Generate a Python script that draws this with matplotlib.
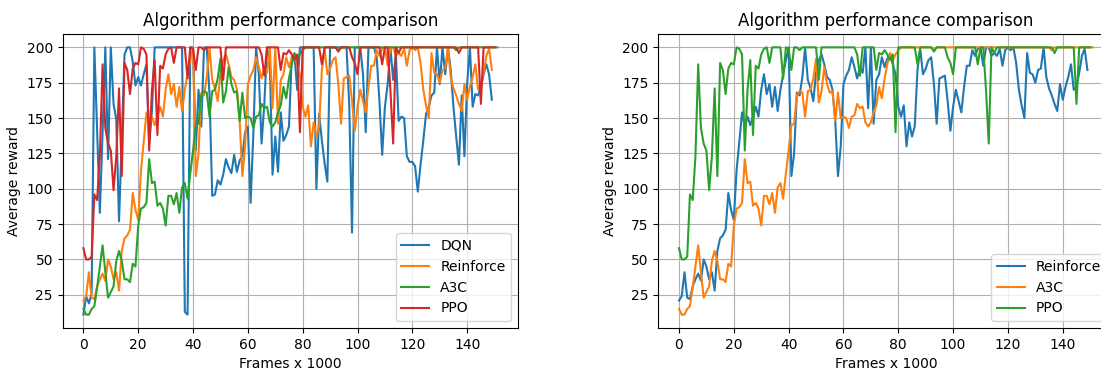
import numpy as np
import matplotlib
matplotlib.use('Agg')
import matplotlib.pyplot as plt

# Average reward per 1000 frames
dqn = [11, 24, 19, 26, 200, 141, 83, 140, 200, 121,
       200, 160, 149, 77, 136, 195, 200, 200, 190, 173,
       179, 173, 181, 188, 132, 155, 200, 200, 200, 200,
       200, 200, 200, 200, 200, 200, 200, 13, 11,
       200, 200, 127, 170, 144, 200, 200, 167, 95, 96,
       106, 103, 110, 121, 115, 111, 124, 112, 120, 123,
       140, 144, 90, 139, 200, 181, 132, 160, 200, 190,
       110, 137, 112, 154, 134, 138, 144, 193, 195, 170,
       200, 200, 200, 200, 200, 200, 100, 153, 134, 118,
       105, 200, 200, 200, 200, 200, 200, 200, 158, 69,
       200, 200, 200, 181, 140, 200, 200, 200, 193, 162,
       124, 158, 174, 200, 177, 195, 148, 151, 150,
       123, 119, 119, 116, 98, 117, 134, 153, 158, 166,
       168, 200, 174, 200, 181, 200, 184, 158, 137, 117,
       166, 123, 174, 200, 158, 167, 166, 172, 181, 188,
       181, 163]

reinforce = [21, 24, 41, 23, 22, 31, 36, 40, 35, 50,
             45, 36, 41, 28, 56, 65, 67, 71, 97, 85,
             78, 113, 133, 154, 144, 151, 145, 151, 158, 151,
             170, 181, 167, 174, 158, 172, 155, 170, 181,
             191, 200, 109, 125, 168, 166, 179, 200, 177, 171,
             162, 182, 191, 195, 188, 179, 177, 170, 148, 109,
             130, 174, 180, 184, 193, 186, 178, 186, 182, 200,
             157, 200, 146, 177, 181, 193, 186, 192, 194, 188,
             181, 158, 151, 159, 130, 147, 137, 144, 184, 199,
             181, 185, 191, 193, 174, 146, 178, 179, 180, 162,
             141, 158, 170, 162, 154, 172, 187, 187, 198, 194,
             199, 200, 187, 200,
             200, 194, 196, 194, 199, 187, 198, 200, 198, 200,
             189, 170, 159, 150, 196, 182, 181, 175, 184, 185,
             200, 179, 171, 166, 160, 155, 174, 163, 172, 179,
             188, 170, 172, 182, 194, 199, 184]

a3c = [15, 11, 11, 15, 17, 30, 45, 60, 41, 23,
       27, 31, 49, 56, 49, 36, 36, 34, 47, 45,
       74, 86, 87, 90, 121, 104, 105, 88, 90, 86,
       74, 95, 95, 89, 97, 83, 101, 104, 93, 111,
       127, 145, 146, 166, 169, 168, 151, 169, 170, 178,
       192, 161, 169, 186, 174, 168, 169, 148, 168, 150,
       151, 150, 143, 151, 152, 160, 157, 158, 147, 144,
       147, 154, 159, 172, 164, 178, 188, 196, 191, 195,
       198, 200, 200, 200, 200, 200, 200, 200, 200, 200,
       200, 200, 200, 198, 200, 200, 200, 200, 200, 200,
       200, 200, 200, 200, 200, 200, 200, 200, 200, 200,
       200, 200, 200, 200, 200, 200, 200, 200, 200, 200,
       200, 200, 200, 200, 200, 200, 200, 200, 200, 200,
       200, 200, 200, 200, 200, 200, 198, 200, 200, 200,
       200, 200, 200, 200, 200, 200, 200, 200, 200, 200,
       200, 200]

ppo = [58, 50, 50, 52, 96, 92, 123, 188, 143, 132,
       127, 99, 123, 171, 109, 189, 184, 167, 185, 189,
       188, 200, 199, 195, 127, 170, 191, 138, 187, 185,
       195, 199, 200, 189, 200, 200, 200, 200, 178, 200,
       199, 184, 200, 200, 198, 200, 200, 200, 200, 200,
       200, 177, 200, 200, 200, 200, 200, 200, 200, 200,
       200, 200, 200, 200, 200, 195, 180, 200, 200, 200,
       200, 200, 184, 196, 195, 198, 195, 191, 195, 140,
       200, 200, 200, 200, 200, 200, 200, 188, 200, 200,
       200, 200, 200, 197, 200, 200, 200, 200, 193, 189,
       181, 200, 200, 200, 200, 200, 200, 200, 200, 188,
       200, 200, 170, 132, 200, 196, 200, 200, 200, 200,
       200, 200, 200, 200, 200, 200, 200, 200, 200, 200,
       200, 200, 200, 200, 200, 200, 200, 196, 200, 200,
       200, 200, 200, 200, 200, 160, 200, 200, 200, 200,
       200]

left_series = [('DQN', dqn), ('Reinforce', reinforce), ('A3C', a3c), ('PPO', ppo)]
right_series = [('Reinforce', reinforce), ('A3C', a3c), ('PPO', ppo)]

fig = plt.figure(figsize=(11.01, 3.71), dpi=100)
ax1 = fig.add_axes([62.7 / 1101, 43 / 371, 455.3 / 1101, 294 / 371])
ax2 = fig.add_axes([658.3 / 1101, 43 / 371, 455.3 / 1101, 294 / 371])

for ax, series in [(ax1, left_series), (ax2, right_series)]:
    for name, vals in series:
        ax.plot(np.arange(len(vals)), vals, label=name)
    ax.set_title("Algorithm performance comparison")
    ax.set_xlabel("Frames x 1000")
    ax.set_ylabel("Average reward")
    ax.grid(True)
    ax.legend(loc='lower right')

fig.savefig('out.png', dpi=100)
